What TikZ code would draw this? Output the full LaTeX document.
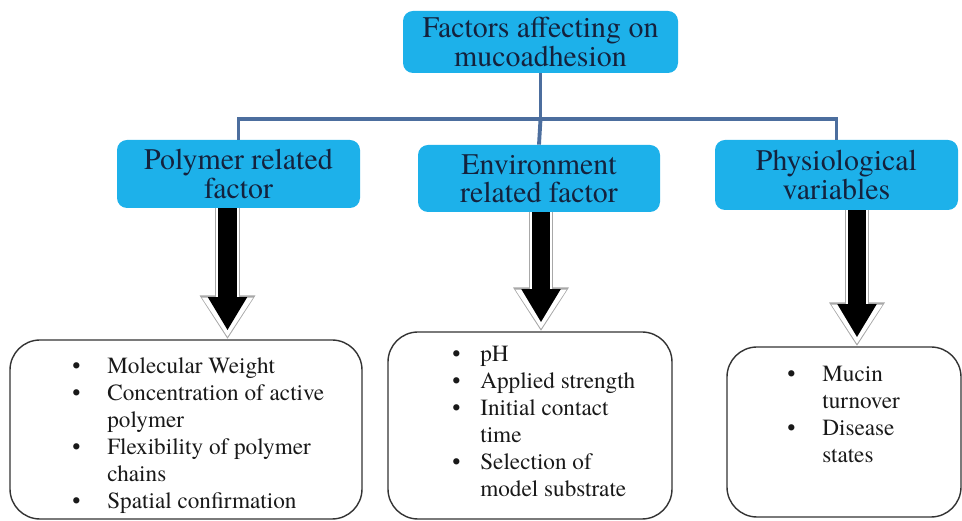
\documentclass[tikz,border=0pt]{standalone}
\usepackage{fontspec}
\newfontfamily\diagfont{TeX Gyre Termes}
\usetikzlibrary{arrows.meta,calc}
\definecolor{boxblue}{HTML}{1DB1EA}
\definecolor{linkblue}{HTML}{4C6E9E}
\definecolor{headtext}{HTML}{14223D}
\definecolor{arrowgrey}{HTML}{A8A8A8}

\tikzset{
  headbox/.style={fill=boxblue, rounded corners=0.2cm, text=headtext, align=center, inner sep=0pt, font=\diagfont\fontsize{17}{16}\selectfont},
  listbox/.style={draw=black!80, line width=0.8pt, rounded corners=0.6cm, inner sep=0pt},
  listtext/.style={anchor=base west, inner sep=0pt, text=black!90, font=\diagfont\fontsize{13.2}{15.3}\selectfont},
  link/.style={draw=linkblue, line width=2.2pt},
  arrowrim/.style={draw=arrowgrey, line width=14pt, -{Triangle[length=25pt,width=30pt]}},
  arrowgap/.style={draw=white, line width=12.8pt, -{Triangle[length=22.5pt,width=27.5pt]}, shorten >=1.2pt},
  arrowcore/.style={draw=black, line width=10.5pt, -{Triangle[length=19pt,width=21pt]}, shorten >=5pt}
}

\begin{document}
\begin{tikzpicture}
\useasboundingbox (0,0) rectangle (19.24,10.42);

% headings
\node [headbox, minimum width=5.5cm, minimum height=1.24cm] (top) at (10.81,9.58) {Factors affecting on\\mucoadhesion};
\node [headbox, minimum width=4.86cm, minimum height=1.36cm] (poly) at (4.77,6.94) {Polymer related\\factor};
\node [headbox, minimum width=4.84cm, minimum height=1.34cm] (env) at (10.78,6.85) {Environment\\related factor};
\node [headbox, minimum width=4.86cm, minimum height=1.40cm] (phys) at (16.73,6.92) {Physiological\\variables};

% tree
\coordinate (fork) at ($(top.south)+(0,-0.92)$);
\draw [link] (top.south) -- (fork);
\draw [link] (poly.north) |- (fork) -| (phys.north);
\draw [link] (fork) -- (env.north);

% lists
\node [listbox, minimum width=7.04cm, minimum height=3.58cm] (polyBox) at (3.72,1.83) {};
\node [listbox, minimum width=5.68cm, minimum height=3.74cm] (envBox) at (10.6,1.91) {};
\node [listbox, minimum width=4.68cm, minimum height=3.40cm] (physBox) at (16.88,1.78) {};

\node [listtext] (polyList) at (1.44,2.94) {\begin{tabular}[t]{@{}p{0.7cm}@{}l@{}}
\textbullet & Molecular Weight\\
\textbullet & Concentration of active\\
 & polymer\\
\textbullet & Flexibility of polymer\\
 & chains\\
\textbullet & Spatial confirmation
\end{tabular}};
\node [listtext] (envList) at (9.04,3.18) {\begin{tabular}[t]{@{}p{0.56cm}@{}l@{}}
\textbullet & pH\\
\textbullet & Applied strength\\
\textbullet & Initial contact\\
 & time\\
\textbullet & Selection of\\
 & model substrate
\end{tabular}};
\node [listtext] (physList) at (15.74,2.78) {\begin{tabular}[t]{@{}p{0.7cm}@{}l@{}}
\textbullet & Mucin\\
 & turnover\\
\textbullet & Disease\\
 & states
\end{tabular}};

% block arrows
\foreach \head/\list/\dx in {poly/polyBox/-0.22, env/envBox/0.04, phys/physBox/0.41} {
  \draw [arrowrim] ([xshift=\dx cm]\head.south) -- ([xshift=\dx cm]\head.south |- \list.north);
  \draw [arrowgap] ([xshift=\dx cm]\head.south) -- ([xshift=\dx cm]\head.south |- \list.north);
  \draw [arrowcore] ([xshift=\dx cm]\head.south) -- ([xshift=\dx cm]\head.south |- \list.north);
}

\end{tikzpicture}
\end{document}
